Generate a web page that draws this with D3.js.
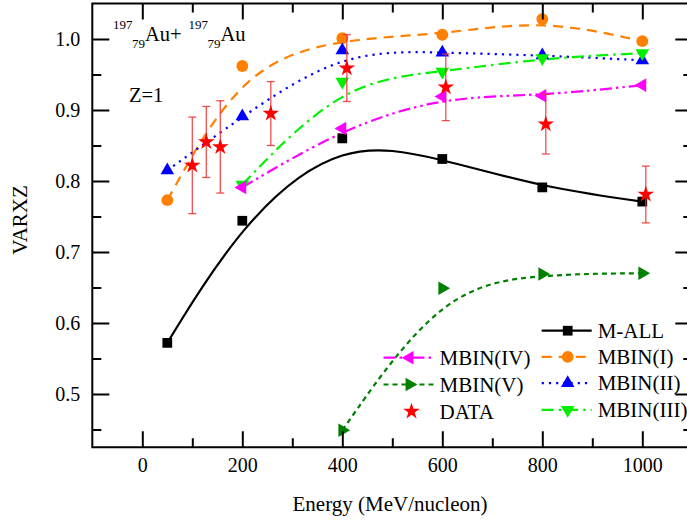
<!DOCTYPE html>
<html>
<head>
<meta charset="utf-8">
<script src="https://cdn.jsdelivr.net/npm/d3@7"></script>
<style>
  body { margin: 0; background: #fff; }
  svg { display: block; }
</style>
</head>
<body>
<svg id="chart" width="687" height="522" font-family="Liberation Serif"></svg>
<script>
'use strict'

// values
const energies = [50, 200, 400, 600, 800, 1000]
const mAll  = [0.572, 0.744, 0.860, 0.831, 0.791, 0.771]
const mbin1 = [0.773, 0.962, 1.001, 1.006, 1.028, 0.997]
const mbin2 = [0.815, 0.891, 0.984, 0.981, 0.977, 0.970]
const energies34 = [200, 400, 600, 800, 1000]
const mbin3 = [0.795, 0.940, 0.954, 0.973, 0.980]
const mbin4 = [0.791, 0.874, 0.919, 0.920, 0.935]
const energies5 = [400, 600, 800, 1000]
const mbin5 = [0.449, 0.649, 0.669, 0.670]
const dataE   = [100, 128, 156, 257, 409, 607, 807, 1007]
const dataV   = [0.822, 0.855, 0.848, 0.895, 0.959, 0.932, 0.880, 0.781]
const dataErr = [0.068, 0.050, 0.065, 0.045, 0.047, 0.047, 0.042, 0.040]

const xMajor = [0, 200, 400, 600, 800, 1000]
const xMinor = [100, 300, 500, 700, 900]
const yMajor = [0.5, 0.6, 0.7, 0.8, 0.9, 1.0]
const yMinor = [0.45, 0.55, 0.65, 0.75, 0.85, 0.95]

const FONT = 'Liberation Serif'
const svg = d3.select('#chart')
const box = {left: 92.3, right: 692.3, top: 3.5, bottom: 447.25}

const x = d3.scaleLinear().domain([-100, 1100]).range([box.left, box.right])
const y = d3.scaleLinear().domain([0.425, 1.05]).range([box.bottom, box.top])

svg.append('rect').attr('width', 687).attr('height', 522).attr('fill', '#fff')

// series styles
const series = [
  {name: 'M-ALL',     xs: energies,   ys: mAll,  color: '#000000', dash: null,               shape: 'square'},
  {name: 'MBIN(I)',   xs: energies,   ys: mbin1, color: '#ff8000', dash: '10,7',             shape: 'circle'},
  {name: 'MBIN(II)',  xs: energies,   ys: mbin2, color: '#0000ff', dash: '2.2,5',            shape: 'up'},
  {name: 'MBIN(III)', xs: energies34, ys: mbin3, color: '#00f000', dash: '12,5,2.5,5',       shape: 'down'},
  {name: 'MBIN(IV)',  xs: energies34, ys: mbin4, color: '#ff00ff', dash: '12,4,2.5,4,2.5,4', shape: 'left'},
  {name: 'MBIN(V)',   xs: energies5,  ys: mbin5, color: '#008000', dash: '5,4',              shape: 'right'}
]

const symbolFor = (shape) => {
  if (shape == 'square') return {type: d3.symbolSquare, size: 95, rot: 0}
  if (shape == 'circle') return {type: d3.symbolCircle, size: 110, rot: 0}
  if (shape == 'up')     return {type: d3.symbolTriangle, size: 80, rot: 0}
  if (shape == 'down')   return {type: d3.symbolTriangle, size: 80, rot: 180}
  if (shape == 'left')   return {type: d3.symbolTriangle, size: 80, rot: -90}
  if (shape == 'right')  return {type: d3.symbolTriangle, size: 80, rot: 90}
  return {type: d3.symbolStar, size: 85, rot: 0}
}

const drawMarker = (g, shape, cx, cy, color) => {
  let s = symbolFor(shape)
  g.append('path')
    .attr('d', d3.symbol().type(s.type).size(s.size)())
    .attr('transform', `translate(${cx},${cy}) rotate(${s.rot})`)
    .attr('fill', color)
}

const line = d3.line()
  .x(d => x(d[0]))
  .y(d => y(d[1]))
  .curve(d3.curveBasis)

// curves
let curves = svg.append('g').attr('class', 'curves')
series.forEach(s => {
  let pts = s.xs.map((e, i) => [e, s.ys[i]])
  curves.append('path')
    .datum(pts)
    .attr('d', line)
    .attr('fill', 'none')
    .attr('stroke', s.color)
    .attr('stroke-width', 2.2)
    .attr('stroke-dasharray', s.dash)
})

// markers
let marks = svg.append('g').attr('class', 'marks')
series.forEach(s => {
  s.xs.forEach((e, i) => drawMarker(marks, s.shape, x(e), y(s.ys[i]), s.color))
})

// experimental data with error bars
let dataG = svg.append('g').attr('class', 'data')
dataE.forEach((e, i) => {
  let cx = x(e), top = y(dataV[i] + dataErr[i]), bot = y(dataV[i] - dataErr[i])
  dataG.append('line').attr('x1', cx).attr('x2', cx).attr('y1', top).attr('y2', bot)
  dataG.append('line').attr('x1', cx - 4).attr('x2', cx + 4).attr('y1', top).attr('y2', top)
  dataG.append('line').attr('x1', cx - 4).attr('x2', cx + 4).attr('y1', bot).attr('y2', bot)
})
dataG.selectAll('line').attr('stroke', '#f03030').attr('stroke-width', 1.3).attr('opacity', 0.85)
dataE.forEach((e, i) => drawMarker(dataG, 'star', x(e), y(dataV[i]), '#ff0000'))

// axes, ticks pointing inward
const axisStyle = (g) => {
  g.attr('font-family', FONT)
  g.select('.domain').remove()
  g.selectAll('line').attr('stroke', '#000').attr('stroke-width', 2)
  g.selectAll('text').attr('font-size', 20).attr('fill', '#000').attr('font-family', FONT)
}

svg.append('g').attr('transform', `translate(0,${box.bottom})`)
  .call(d3.axisBottom(x).tickValues(xMajor).tickSize(-16).tickPadding(11).tickFormat(d3.format('d')))
  .call(axisStyle)
svg.append('g').attr('transform', `translate(0,${box.bottom})`)
  .call(d3.axisBottom(x).tickValues(xMinor).tickSize(-9).tickFormat(''))
  .call(axisStyle)
svg.append('g').attr('transform', `translate(0,${box.top})`)
  .call(d3.axisTop(x).tickValues(xMajor).tickSize(-16).tickFormat(''))
  .call(axisStyle)
svg.append('g').attr('transform', `translate(0,${box.top})`)
  .call(d3.axisTop(x).tickValues(xMinor).tickSize(-9).tickFormat(''))
  .call(axisStyle)

svg.append('g').attr('transform', `translate(${box.left},0)`)
  .call(d3.axisLeft(y).tickValues(yMajor).tickSize(-17).tickPadding(12).tickFormat(d3.format('.1f')))
  .call(axisStyle)
svg.append('g').attr('transform', `translate(${box.left},0)`)
  .call(d3.axisLeft(y).tickValues(yMinor).tickSize(-9).tickFormat(''))
  .call(axisStyle)
svg.append('g').attr('transform', `translate(${box.right},0)`)
  .call(d3.axisRight(y).tickValues(yMajor).tickSize(-17).tickFormat(''))
  .call(axisStyle)
svg.append('g').attr('transform', `translate(${box.right},0)`)
  .call(d3.axisRight(y).tickValues(yMinor).tickSize(-9).tickFormat(''))
  .call(axisStyle)

svg.append('rect')
  .attr('x', box.left).attr('y', box.top)
  .attr('width', box.right - box.left).attr('height', box.bottom - box.top)
  .attr('fill', 'none').attr('stroke', '#000').attr('stroke-width', 2)

const addText = (px, py, size, str) =>
  svg.append('text').attr('x', px).attr('y', py)
    .attr('font-family', FONT).attr('font-size', size).text(str)

// axis titles
addText(390, 511, 21, 'Energy (MeV/nucleon)').attr('text-anchor', 'middle')
svg.append('text')
  .attr('transform', 'translate(27,220) rotate(-90)')
  .attr('text-anchor', 'middle').attr('font-size', 21).attr('font-family', FONT)
  .text('VARXZ')

// reaction label  197/79 Au + 197/79 Au
const nucleus = (x0, sym) => {
  addText(x0, 29, 13, '197')
  addText(x0 + 19, 48, 13, '79')
  addText(x0 + 32, 41, 20.5, sym)
}
nucleus(113, 'Au+')
nucleus(188.5, 'Au')
addText(129, 102, 20.5, 'Z=1')

// legend
const legendRows = [
  {name: 'M-ALL',     x0: 541.7, y0: 330.7},
  {name: 'MBIN(I)',   x0: 541.7, y0: 356.9},
  {name: 'MBIN(II)',  x0: 541.7, y0: 383.1},
  {name: 'MBIN(III)', x0: 541.7, y0: 409.8},
  {name: 'MBIN(IV)',  x0: 383.5, y0: 357.7},
  {name: 'MBIN(V)',   x0: 383.5, y0: 384.5},
  {name: 'DATA',      x0: 383.5, y0: 411.5}
]
let legend = svg.append('g').attr('class', 'legend')
legendRows.forEach(r => {
  let s = series.find(d => d.name == r.name)
  if (s) {
    legend.append('line')
      .attr('x1', r.x0).attr('x2', r.x0 + 50).attr('y1', r.y0).attr('y2', r.y0)
      .attr('stroke', s.color).attr('stroke-width', 2.2).attr('stroke-dasharray', s.dash)
    drawMarker(legend, s.shape, r.x0 + 26, r.y0, s.color)
  } else {
    drawMarker(legend, 'star', r.x0 + 28, r.y0, '#ff0000')
  }
  legend.append('text')
    .attr('x', r.x0 + 56).attr('y', r.y0).attr('dy', '0.35em')
    .attr('font-family', FONT).attr('font-size', 21)
    .text(r.name)
})
</script>
</body>
</html>
